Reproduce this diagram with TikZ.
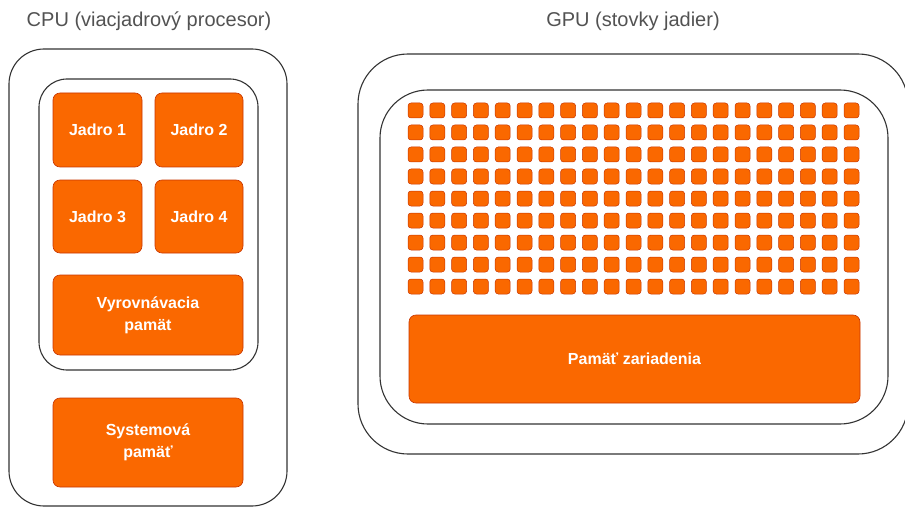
\documentclass[tikz,border=0pt]{standalone}
\usepackage{fontspec}
\setmainfont{Liberation Sans}
\definecolor{coreorange}{HTML}{FA6800}
\definecolor{coreedge}{HTML}{C73500}
\definecolor{framegray}{HTML}{333333}
\begin{document}
\begin{tikzpicture}[x=1pt,y=-1pt,
  unit/.style={draw=coreedge,fill=coreorange,rounded corners=7pt,text=white,
    font=\fontsize{16}{22}\selectfont\bfseries,align=center,inner sep=0pt,line width=0.6pt},
  frame/.style={draw=framegray,line width=1.1pt},
  title/.style={text=framegray!85,font=\fontsize{20}{24}\selectfont},
  tinycore/.style={draw=coreedge,fill=coreorange,rounded corners=3pt,
    minimum size=15pt,inner sep=0pt,line width=0.5pt}]
\useasboundingbox (0,0) rectangle (905,508);

% Titles
\node[title] (cputitle) at (149,21) {CPU (viacjadrový procesor)};
\node[title] (gputitle) at (633,21) {GPU (stovky jadier)};

% CPU frames
\draw[frame,rounded corners=35pt] (9,49) rectangle (287,506);
\draw[frame,rounded corners=28pt] (39,79) rectangle (258,370);

% CPU cores
\node[unit,minimum width=89pt,minimum height=74pt] (core1) at (97.5,130) {Jadro 1};
\node[unit,minimum width=88pt,minimum height=74pt] (core2) at (199,130) {Jadro 2};
\node[unit,minimum width=89pt,minimum height=73pt] (core3) at (97.5,216.5) {Jadro 3};
\node[unit,minimum width=88pt,minimum height=73pt] (core4) at (199,216.5) {Jadro 4};

% CPU memory
\node[unit,minimum width=190pt,minimum height=80pt] (cache) at (148,315) {Vyrovnávacia\\pamät};
\node[unit,minimum width=190pt,minimum height=89pt] (sysmem) at (148,442.5) {Systemová\\pamäť};

% GPU frames
\draw[frame,rounded corners=50pt] (358,54) rectangle (908,454);
\draw[frame,rounded corners=48pt] (380,90) rectangle (888,424);

% GPU cores
\foreach \i in {0,...,20}
  \foreach \j in {0,...,8}
    \node[tinycore] (gcore\i-\j) at (415.5+21.8*\i,110.5+22*\j) {};

% GPU memory
\node[unit,minimum width=451pt,minimum height=88pt] (devmem) at (634.5,359) {Pamäť zariadenia};
\end{tikzpicture}
\end{document}
